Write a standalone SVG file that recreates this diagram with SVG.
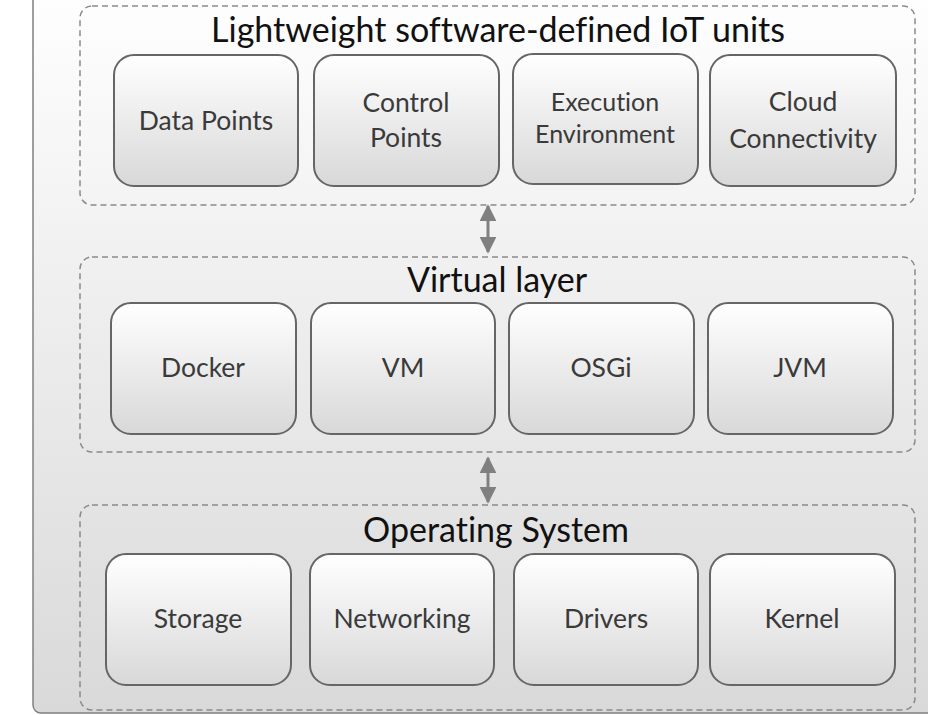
<svg xmlns="http://www.w3.org/2000/svg" width="928" height="715" viewBox="0 0 928 715">
  <defs>
    <linearGradient id="bgGrad" x1="0" y1="0" x2="0" y2="1">
      <stop offset="0" stop-color="#ffffff"/>
      <stop offset="1" stop-color="#d9d9d9"/>
    </linearGradient>
    <linearGradient id="nodeGrad" x1="0" y1="0" x2="0" y2="1">
      <stop offset="0" stop-color="#ffffff"/>
      <stop offset="1" stop-color="#d8d8d8"/>
    </linearGradient>
    <marker id="head" viewBox="0 0 10 10" refX="9" refY="5" markerWidth="5.6" markerHeight="5.6" markerUnits="strokeWidth" orient="auto-start-reverse">
      <path d="M0,0 L10,5 L0,10 z" fill="#808080"/>
    </marker>
  </defs>
  <style>
    text { font-variant-ligatures: none; font-family: Lato, "Open Sans", "Liberation Sans", sans-serif; }
    .layer { fill: none; stroke: #8a8a8a; stroke-width: 1.5; stroke-dasharray: 6 4; }
    .node rect { fill: url(#nodeGrad); stroke: #666666; stroke-width: 2; }
    .node text { font-size: 26.5px; fill: #3a3a3a; text-anchor: middle; }
    .node text.small { font-size: 25px; }
    .title { font-size: 34px; fill: #111111; text-anchor: middle; }
    .conn { stroke: #808080; stroke-width: 3; fill: none; }
  </style>

  <rect width="928" height="715" fill="#ffffff"/>
  <!-- outer frame -->
  <rect x="33" y="-20" width="930" height="733" rx="8" fill="url(#bgGrad)" stroke="#808080" stroke-width="1.5"/>

  <!-- layer containers -->
  <g id="layer-iot">
    <rect class="layer" x="80" y="6" width="835" height="199" rx="12"/>
    <text class="title" x="498" y="42">Lightweight software-defined IoT units</text>
  </g>
  <g id="layer-virtual">
    <rect class="layer" x="80" y="257" width="835" height="195" rx="12"/>
    <text class="title" x="497" y="292">Virtual layer</text>
  </g>
  <g id="layer-os">
    <rect class="layer" x="80" y="505" width="835" height="205" rx="12"/>
    <text class="title" x="496" y="542">Operating System</text>
  </g>

  <!-- IoT units -->
  <g id="data-points" class="node">
    <rect x="114" y="55" width="184" height="131" rx="20"/>
    <text x="206" y="130">Data Points</text>
  </g>
  <g id="control-points" class="node">
    <rect x="314" y="55" width="185" height="131" rx="20"/>
    <text x="406" y="112">Control</text>
    <text x="406" y="147">Points</text>
  </g>
  <g id="execution-environment" class="node">
    <rect x="513" y="54" width="185" height="130" rx="20"/>
    <text class="small" x="605" y="111">Execution</text>
    <text class="small" x="605" y="143">Environment</text>
  </g>
  <g id="cloud-connectivity" class="node">
    <rect x="710" y="55" width="186" height="131" rx="20"/>
    <text x="803" y="111">Cloud</text>
    <text x="803" y="148">Connectivity</text>
  </g>

  <!-- virtual layer -->
  <g id="docker" class="node">
    <rect x="111" y="303" width="185" height="131" rx="20"/>
    <text x="203" y="377">Docker</text>
  </g>
  <g id="vm" class="node">
    <rect x="311" y="303" width="184" height="131" rx="20"/>
    <text x="403" y="377">VM</text>
  </g>
  <g id="osgi" class="node">
    <rect x="509" y="303" width="185" height="131" rx="20"/>
    <text x="601" y="377">OSGi</text>
  </g>
  <g id="jvm" class="node">
    <rect x="708" y="303" width="185" height="131" rx="20"/>
    <text x="800" y="377">JVM</text>
  </g>

  <!-- operating system -->
  <g id="storage" class="node">
    <rect x="106" y="554" width="185" height="131" rx="20"/>
    <text x="198" y="628">Storage</text>
  </g>
  <g id="networking" class="node">
    <rect x="310" y="554" width="184" height="131" rx="20"/>
    <text x="402" y="628">Networking</text>
  </g>
  <g id="drivers" class="node">
    <rect x="514" y="554" width="184" height="131" rx="20"/>
    <text x="606" y="628">Drivers</text>
  </g>
  <g id="kernel" class="node">
    <rect x="710" y="554" width="185" height="131" rx="20"/>
    <text x="802" y="628">Kernel</text>
  </g>

  <!-- connectors between layers -->
  <g id="connectors">
    <line class="conn" x1="488" y1="206" x2="488" y2="252" marker-start="url(#head)" marker-end="url(#head)"/>
    <line class="conn" x1="488" y1="458" x2="488" y2="502" marker-start="url(#head)" marker-end="url(#head)"/>
  </g>
</svg>
